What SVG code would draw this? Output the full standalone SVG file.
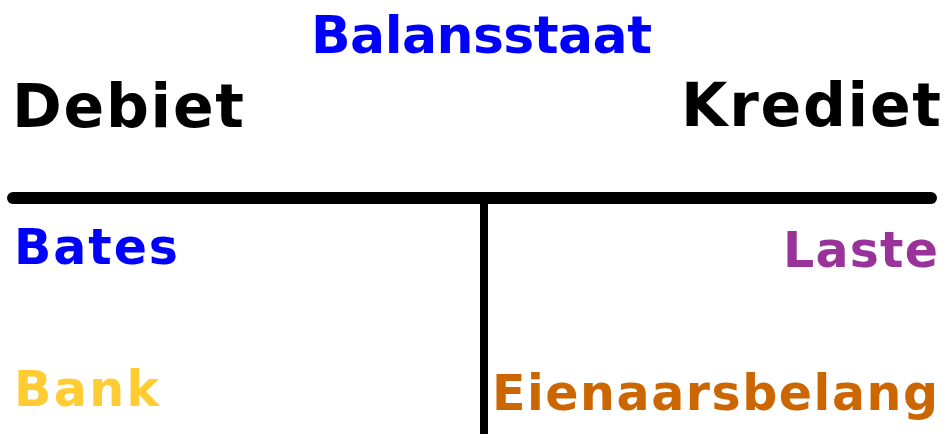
<svg xmlns="http://www.w3.org/2000/svg" width="946" height="434" viewBox="0 0 946 434">
<style>
text{font-family:"DejaVu Sans","Noto Sans",sans-serif;font-weight:bold}
.h{font-size:60px;fill:#000}
.s{font-size:49px}
</style>
<rect width="946" height="434" fill="#fff"/>
<g id="title"><text x="311" y="53" font-size="52" fill="#0000FF" textLength="341" lengthAdjust="spacing">Balansstaat</text></g>
<g id="debiet"><text class="h" x="12" y="127" textLength="232" lengthAdjust="spacing">Debiet</text></g>
<g id="krediet"><text class="h" x="941" y="126" text-anchor="end" textLength="260" lengthAdjust="spacing">Krediet</text></g>
<g id="connectors" stroke="#000" stroke-linecap="round">
<line x1="13" y1="198" x2="931" y2="198" stroke-width="12"/>
<line x1="484" y1="198" x2="484" y2="434" stroke-width="8" stroke-linecap="butt"/>
</g>
<g id="bates"><text class="s" x="14" y="264" fill="#0000FF" textLength="164" lengthAdjust="spacing">Bates</text></g>
<g id="laste"><text class="s" x="938" y="267" fill="#993399" text-anchor="end" textLength="155" lengthAdjust="spacing">Laste</text></g>
<g id="bank"><text class="s" x="14" y="406" fill="#FFCC33" textLength="145" lengthAdjust="spacing">Bank</text></g>
<g id="eienaarsbelang"><text class="s" x="492" y="410" fill="#CC6600" textLength="446" lengthAdjust="spacing">Eienaarsbelang</text></g>
</svg>
